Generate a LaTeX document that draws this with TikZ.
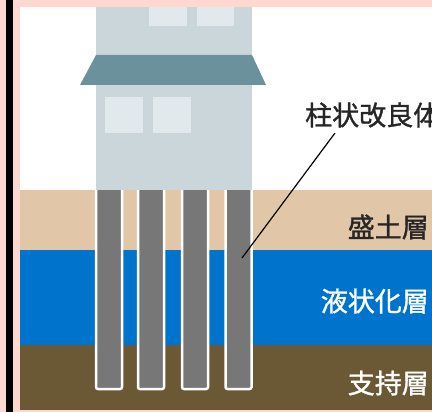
\documentclass[tikz,border=0pt]{standalone}
\usepackage{fontspec}
\newfontfamily\jp[FakeBold=1.2]{Noto Sans CJK JP}
\definecolor{cornice}{RGB}{253,216,209}
\definecolor{casa}{RGB}{203,214,219}
\definecolor{finestra}{RGB}{226,233,236}
\definecolor{tetto}{RGB}{107,145,156}
\definecolor{riporto}{RGB}{226,198,168}
\definecolor{liquido}{RGB}{0,115,204}
\definecolor{portante}{RGB}{107,88,52}
\definecolor{palo}{RGB}{119,119,119}
\begin{document}
\begin{tikzpicture}[x=1pt, y=-1pt,
    pile/.style={rectangle, fill=palo, draw=white, line width=2.5pt, rounded corners=2pt,
                 minimum width=26pt, minimum height=203pt, inner sep=0pt},
    window/.style={fill=finestra},
    layer/.style={font=\jp\fontsize{27}{32}\selectfont, anchor=east, inner sep=0pt},
]
\useasboundingbox (0,0) rectangle (432,412);
\clip (0,0) rectangle (432,412);

% Cornice
\fill[cornice] (0,0) rectangle (432,412);
\fill[black] (6,0) rectangle (13,412);

% Strati del terreno
\fill[white] (20,7) rectangle (432,190);
\fill[riporto] (20,190) rectangle (432,250);
\fill[liquido] (20,250) rectangle (432,345);
\fill[portante] (20,345) rectangle (432,410);

% Pali
\node[pile] (p1) at (109,287.5) {};
\node[pile] (p2) at (151,287.5) {};
\node[pile] (p3) at (195,287.5) {};
\node[pile] (p4) at (238.5,287.5) {};

% Edificio
\fill[casa] (96,7) rectangle (252,190);
\fill[window] (149,7) rectangle (187,26);
\fill[window] (197,7) rectangle (234,26);
\fill[tetto] (80,85) -- (96,55) -- (252,55) -- (266,85) -- cycle;
\fill[window] (105,97) rectangle (143,133);
\fill[window] (153,97) rectangle (191,133);

% Etichette
\node[layer, anchor=west, text=black!85] (colonne) at (305,115) {柱状改良体};
\node[layer, text=black!85] (moritsuchi) at (429,227) {盛土層};
\node[layer, text=white] (ekijoka) at (429,301) {液状化層};
\node[layer, text=white] (shiji) at (429,383) {支持層};

% Linea di richiamo
\coordinate (punta) at (242,258);
\coordinate (attacco) at (335,133);
\draw[line width=1.2pt] (punta) -- (attacco);

\end{tikzpicture}
\end{document}
